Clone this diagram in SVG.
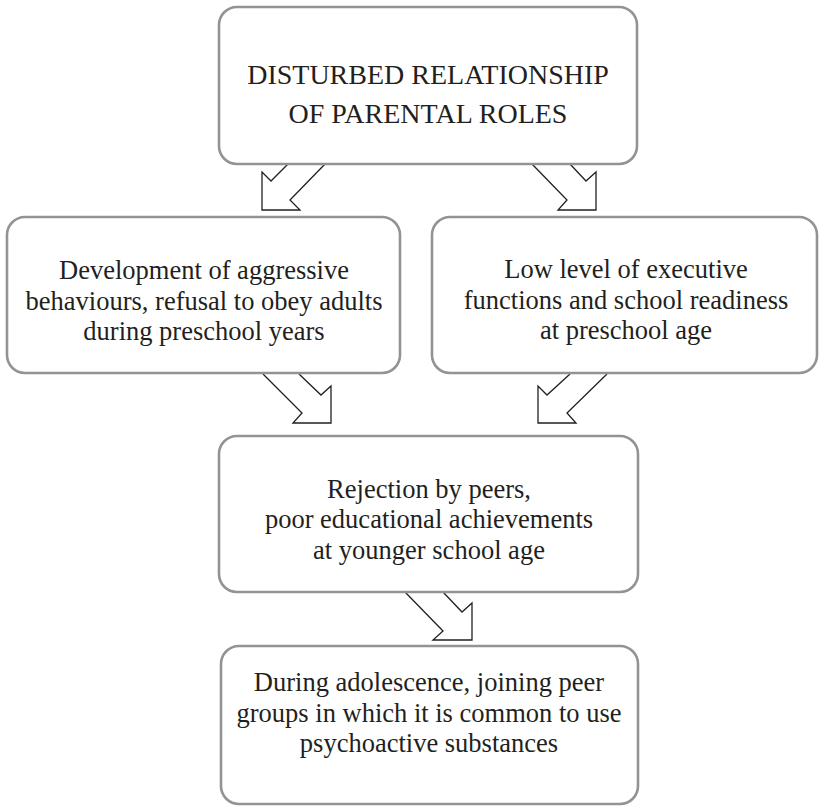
<svg xmlns="http://www.w3.org/2000/svg" width="820" height="809" viewBox="0 0 820 809">
<style>
.box{fill:#ffffff;stroke:#939393;stroke-width:2.6}
.arr{fill:#ffffff;stroke:#231f20;stroke-width:1.3;stroke-linejoin:miter}
.t{font-family:"Liberation Serif","Times New Roman",serif;fill:#231f20;text-anchor:middle}
.t1{font-size:28px}
.t2{font-size:26.5px}
</style>
<rect x="0" y="0" width="820" height="809" fill="#ffffff"/>
<g id="connectors">
<polyline class="arr" points="288,164 271,181 262,172 262,210 300,210 290,200 325,164"/>
<polyline class="arr" points="532,164 567,200 558,210 596,210 596,172 586,181 570,164"/>
<polyline class="arr" points="263,374 302,413 293,423 331,423 331,386 321,395 299,374"/>
<polyline class="arr" points="570,374 547,395 538,386 538,423 576,423 567,413 607,374"/>
<polyline class="arr" points="405,592 443,631 433,640 472,640 472,603 462,612 443,592"/>
</g>
<g id="node-parental">
<rect class="box" x="219" y="7" width="418" height="157" rx="18"/>
<text class="t t1" x="428" y="84">DISTURBED RELATIONSHIP</text>
<text class="t t1" x="428" y="123">OF PARENTAL ROLES</text>
</g>
<g id="node-aggressive">
<rect class="box" x="7" y="217" width="393" height="156" rx="18"/>
<text class="t t2" x="204" y="279">Development of aggressive</text>
<text class="t t2" x="204" y="310">behaviours, refusal to obey adults</text>
<text class="t t2" x="204" y="340">during preschool years</text>
</g>
<g id="node-executive">
<rect class="box" x="432" y="217" width="385" height="156" rx="18"/>
<text class="t t2" x="626" y="278">Low level of executive</text>
<text class="t t2" x="626" y="309">functions and school readiness</text>
<text class="t t2" x="626" y="339">at preschool age</text>
</g>
<g id="node-rejection">
<rect class="box" x="219" y="436" width="419" height="156" rx="18"/>
<text class="t t2" x="429" y="498">Rejection by peers,</text>
<text class="t t2" x="429" y="528">poor educational achievements</text>
<text class="t t2" x="429" y="559">at younger school age</text>
</g>
<g id="node-adolescence">
<rect class="box" x="221" y="646" width="417" height="158" rx="18"/>
<text class="t t2" x="429" y="691">During adolescence, joining peer</text>
<text class="t t2" x="429" y="722">groups in which it is common to use</text>
<text class="t t2" x="429" y="752">psychoactive substances</text>
</g>
</svg>
